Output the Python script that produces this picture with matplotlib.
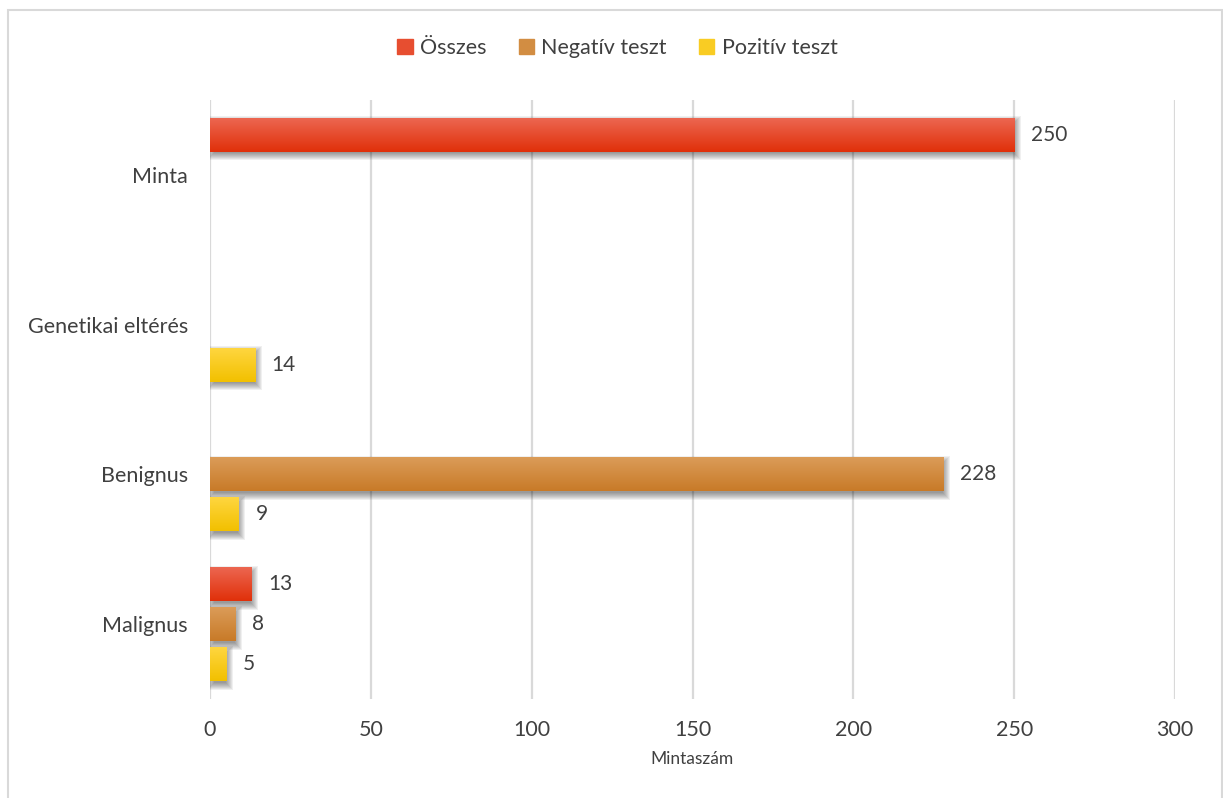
import numpy as np
import matplotlib.pyplot as plt
from matplotlib.colors import LinearSegmentedColormap
from matplotlib.patches import Rectangle

plt.rcParams['font.family'] = ['Lato', 'DejaVu Sans']

categories = ['Malignus', 'Benignus', 'Genetikai eltérés', 'Minta']
series_names = ['Összes', 'Negatív teszt', 'Pozitív teszt']
osszes = [13, np.nan, np.nan, 250]
negativ = [8, 228, np.nan, np.nan]
pozitiv = [5, 9, 14, np.nan]

# (top colour, bottom colour) for each series
shades = [('#EC6650', '#E0300A'), ('#DB9C58', '#C87A28'), ('#FFD63F', '#F2C000')]
text_col = '#404040'
grid_col = '#D9D9D9'

W, H = 1223, 798
fig = plt.figure(figsize=(W / 100, H / 100), dpi=100)
ax = fig.add_axes([210 / W, 1 - 699 / H, 965 / W, 599 / H])

xmax = 300
y = np.arange(len(categories))
h = 0.227
offsets = [0.267, 0.0, -0.267]
# data units per pixel, used for the soft drop shadow
px_x = xmax / 965
px_y = len(categories) / 599


def soft_shadow(bar):
    x0, y0 = bar.get_x(), bar.get_y()
    w, hh = bar.get_width(), bar.get_height()
    dx, dy = 1.5 * px_x, -3.5 * px_y
    for k in range(-2, 6):
        ax.add_patch(Rectangle((x0 + dx - k * px_x, y0 + dy - k * px_y),
                               w + 2 * k * px_x, hh + 2 * k * px_y,
                               facecolor='black', edgecolor='none', alpha=0.06, zorder=2))


handles = []
for vals, off, (top, bot), name in zip([osszes, negativ, pozitiv], offsets, shades, series_names):
    cmap = LinearSegmentedColormap.from_list(name, [bot, top])
    bars = ax.barh(y + off, vals, height=h, color=top, label=name, zorder=3)
    handles.append(Rectangle((0, 0), 1, 1, color=cmap(0.55)))
    for b, v in zip(bars, vals):
        if np.isnan(v):
            continue
        soft_shadow(b)
        x0, y0 = b.get_x(), b.get_y()
        grad = np.linspace(0, 1, 64).reshape(-1, 1)
        im = ax.imshow(grad, cmap=cmap, aspect='auto', origin='lower',
                       extent=[x0, x0 + b.get_width(), y0, y0 + b.get_height()], zorder=4)
        im.set_clip_path(b)
        ax.annotate(f'{v:g}', (v, y0 + b.get_height() / 2), xytext=(12, 0),
                    textcoords='offset points', va='center', ha='left',
                    fontsize=15, color=text_col)

ax.set_xlim(0, xmax)
ax.set_ylim(-0.5, len(categories) - 0.5)
ax.set_xticks(np.arange(0, xmax + 1, 50))
ax.set_yticks(y)
ax.set_yticklabels(categories)
ax.tick_params(axis='both', length=0, labelsize=15.5, labelcolor=text_col)
ax.tick_params(axis='y', pad=16)
ax.tick_params(axis='x', pad=15)
ax.grid(axis='x', color=grid_col, linewidth=1.6, zorder=0)
ax.set_axisbelow(True)
for s in ax.spines.values():
    s.set_visible(False)
ax.set_xlabel('Mintaszám', fontsize=12.5, color=text_col, labelpad=8)

fig.legend(handles, series_names, loc='center', bbox_to_anchor=(0.505, 1 - 48 / H),
           ncol=3, frameon=False, fontsize=15.5, labelcolor=text_col,
           handlelength=0.7, handleheight=0.7, handletextpad=0.35, columnspacing=1.5)

# chart frame
fig.patches.append(Rectangle((8 / W, -0.01), 1214 / W, 1 - 10 / H + 0.01,
                             transform=fig.transFigure, fill=False,
                             edgecolor=grid_col, linewidth=1.5))

fig.savefig('out.png', dpi=100)
